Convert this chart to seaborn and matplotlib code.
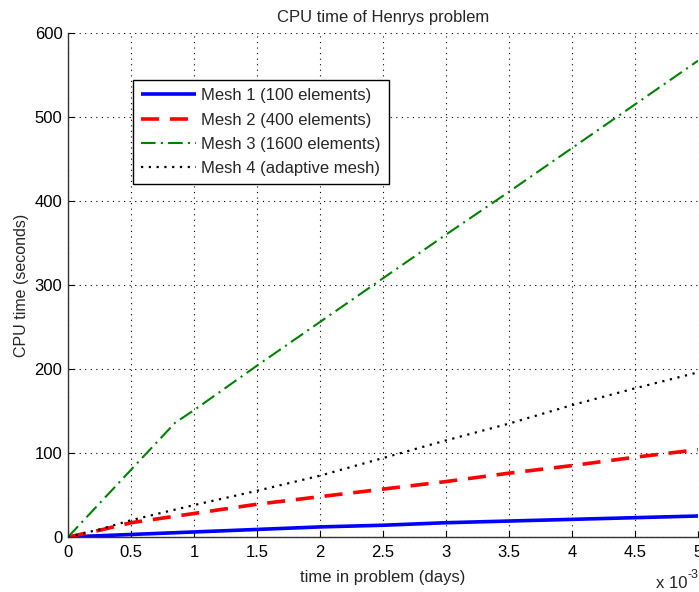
import numpy as np
import pandas as pd
import matplotlib
matplotlib.use("Agg")
import matplotlib.pyplot as plt
import seaborn as sns
from matplotlib.ticker import FuncFormatter

# ---- data (time in days, CPU time in seconds) ----
t_blue = [0, 0.0005, 0.001, 0.0015, 0.002, 0.0025, 0.003, 0.0035, 0.004, 0.0045, 0.005]
cpu_mesh1 = [0, 3, 6, 9, 12, 14, 17, 19, 21, 23, 25]

t_red = [0, 0.00025, 0.0005, 0.001, 0.0015, 0.002, 0.0025, 0.003, 0.0035, 0.004, 0.0045, 0.005]
cpu_mesh2 = [0, 8, 17, 28, 39, 48, 57, 66, 76, 85, 95, 104]

t_green = [0, 0.00025, 0.0005, 0.00075, 0.00085, 0.001, 0.0015, 0.002, 0.0025, 0.003, 0.0035, 0.004, 0.0045, 0.005]
cpu_mesh3 = [0, 40, 80, 120, 136, 151, 204, 256, 308, 360, 411, 463, 515, 567]

t_black = [0, 0.00025, 0.0005, 0.001, 0.0015, 0.002, 0.0025, 0.003, 0.0035, 0.004, 0.0045, 0.005]
cpu_mesh4 = [0, 9, 20, 38, 55, 73, 94, 115, 135, 157, 177, 196]

labels = ["Mesh 1 (100 elements)", "Mesh 2 (400 elements)",
          "Mesh 3 (1600 elements)", "Mesh 4 (adaptive mesh)"]
xtick_vals = [0, 0.0005, 0.001, 0.0015, 0.002, 0.0025, 0.003, 0.0035, 0.004, 0.0045, 0.005]
ytick_vals = [0, 100, 200, 300, 400, 500, 600]

sns.set_style("white")
plt.rcParams['font.family'] = ['Liberation Sans', 'DejaVu Sans']

fig = plt.figure(figsize=(6.99, 5.92), dpi=100)
ax = fig.add_axes([68/699, 1-537/592, (698-68)/699, (537-33)/592])

series = [
    (t_blue, cpu_mesh1, "#0000ff", (0, ()), 2.6),
    (t_red, cpu_mesh2, "#ff0000", (0, (5, 3)), 2.6),
    (t_green, cpu_mesh3, "#008000", (0, (7, 2.5, 1, 2.5)), 1.5),
    (t_black, cpu_mesh4, "#000000", (0, (1, 2.5)), 1.6),
]
for (x, y, c, ls, lw), lab in zip(series, labels):
    df = pd.DataFrame({"t": x, "cpu": y})
    sns.lineplot(data=df, x="t", y="cpu", ax=ax, color=c, linewidth=lw,
                 linestyle=ls, label=lab)

ax.set_xlim(0, 0.005)
ax.set_ylim(0, 600)
ax.set_xticks(xtick_vals)
ax.set_yticks(ytick_vals)
ax.xaxis.set_major_formatter(FuncFormatter(lambda v, p: f"{v*1000:g}"))
ax.grid(True, color="black", linestyle=(0, (1, 4)), linewidth=0.8)
ax.tick_params(direction="in", length=4, labelsize=12, colors="black",
               bottom=True, left=True)
ax.tick_params(axis="x", pad=6)
ax.tick_params(axis="y", pad=4)
for s in ["top", "right"]:
    ax.spines[s].set_visible(False)
for s in ["left", "bottom"]:
    ax.spines[s].set_color("#333333")
    ax.spines[s].set_linewidth(1.0)

ax.set_xlabel("time in problem (days)", fontsize=12, labelpad=7)
ax.set_ylabel("CPU time (seconds)", fontsize=11.5, labelpad=4)
ax.set_title("CPU time of Henrys problem", fontsize=12, pad=8)
fig.text(656/699, 1-584/592, "x 10", fontsize=12, ha="left", va="center")
fig.text(687/699, 1-575/592, "-3", fontsize=9, ha="left", va="center")

leg = ax.legend(loc="upper left", bbox_to_anchor=((133-68)/630, (537-80)/504),
                fontsize=12, frameon=True, fancybox=False, framealpha=1,
                edgecolor="black", handlelength=3.3, borderpad=0.5,
                labelspacing=0.55, handletextpad=0.3, borderaxespad=0)
leg.get_frame().set_linewidth(1.0)

fig.savefig("out.png", dpi=100)
